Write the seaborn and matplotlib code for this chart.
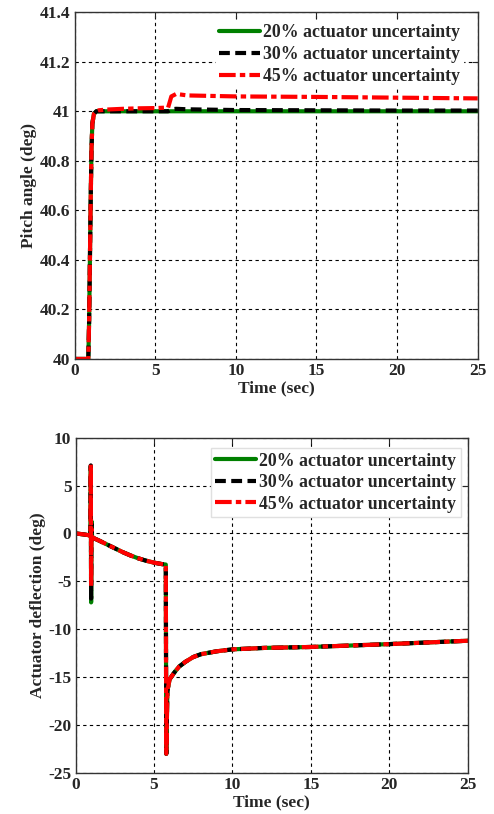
import matplotlib
matplotlib.use("Agg")
import matplotlib.pyplot as plt
import seaborn as sns
from matplotlib.ticker import FormatStrFormatter

sns.set_style("white")
plt.rcParams['font.family'] = ['Liberation Serif', 'DejaVu Serif']
plt.rcParams['font.weight'] = 'bold'

# ---------- data: pitch angle ----------
t_pitch = [0, 0.85, 0.9, 0.95, 1.0, 1.05, 1.1, 1.2, 1.35, 1.5, 2, 3, 4, 5, 5.8, 6.0, 6.3, 7, 10, 15, 20, 25]
pitch_20 = [40, 40, 40.15, 40.4, 40.65, 40.85, 40.95, 40.99, 41.0, 41.0, 41.0, 41.0, 41.0, 41.0, 41.0, 41.0,
            41.0, 41.0, 41.0, 41.0, 41.0, 41.0]
pitch_30 = [40, 40, 40.15, 40.4, 40.65, 40.85, 40.95, 40.99, 41.0, 41.0, 41.0, 41.0, 41.0, 41.0, 41.0, 41.008,
            41.01, 41.008, 41.005, 41.004, 41.003, 41.003]
pitch_45 = [40, 40, 40.15, 40.4, 40.65, 40.85, 40.95, 40.99, 41.0, 41.004, 41.007, 41.01, 41.012, 41.013, 41.015,
            41.06, 41.07, 41.064, 41.06, 41.058, 41.055, 41.052]

# ---------- data: actuator deflection ----------
t_act = [0, 0.5, 0.9, 0.95, 0.97, 0.99, 1.01, 1.05, 1.1, 1.5, 2, 2.5, 3, 3.5, 4, 4.5, 5, 5.5, 5.75,
         5.78, 5.85, 5.9, 6.0, 6.3, 6.6, 7, 7.5, 8, 9, 10, 12, 15, 20, 25]
act_20 = [0, -0.1, -0.2, -0.3, 7.0, -7.2, 1.3, -0.3, -0.45, -0.75, -1.15, -1.55, -1.95, -2.3, -2.6, -2.85, -3.05,
          -3.2, -3.25, -23.0, -16.5, -16.0, -15.2, -14.5, -13.9, -13.4, -12.9, -12.6, -12.3, -12.1, -11.95, -11.85,
          -11.55, -11.2]
act_30 = [0, -0.1, -0.2, -0.3, 7.1, -6.8, 1.0, -0.3, -0.45, -0.75, -1.15, -1.55, -1.95, -2.3, -2.6, -2.85, -3.05,
          -3.2, -3.25, -23.0, -16.5, -16.0, -15.2, -14.5, -13.9, -13.4, -12.9, -12.6, -12.3, -12.1, -11.95, -11.85,
          -11.55, -11.2]
act_45 = [0, -0.1, -0.2, -0.3, 7.2, -5.5, 0.5, -0.3, -0.45, -0.75, -1.15, -1.55, -1.95, -2.3, -2.6, -2.85, -3.05,
          -3.2, -3.25, -23.0, -16.5, -16.0, -15.2, -14.5, -13.9, -13.4, -12.9, -12.6, -12.3, -12.1, -11.95, -11.85,
          -11.55, -11.2]

labels = ["20% actuator uncertainty", "30% actuator uncertainty", "45% actuator uncertainty"]
pitch_ticks = [40, 40.2, 40.4, 40.6, 40.8, 41, 41.2, 41.4]
act_ticks = [-25, -20, -15, -10, -5, 0, 5, 10]
time_ticks = [0, 5, 10, 15, 20, 25]

styles = [
    dict(color="#008000", linestyle="-", lw=3.0),
    dict(color="black", linestyle=(0, (2.6, 1.3)), lw=3.0),
    dict(color="#ff0000", linestyle=(0, (4.0, 1.0, 1.3, 1.0)), lw=3.0),
]

fig = plt.figure(figsize=(4.94, 8.14), dpi=100)
ax1 = fig.add_axes([0.151, 0.559, 0.816, 0.426])
ax2 = fig.add_axes([0.153, 0.0504, 0.794, 0.412])

def style_axes(ax, yticks, ylim, ylabel, fmt):
    ax.set_xlim(0, 25)
    ax.set_ylim(*ylim)
    ax.set_xticks(time_ticks)
    ax.set_yticks(yticks)
    ax.yaxis.set_major_formatter(FormatStrFormatter(fmt))
    ax.grid(True, color="black", linestyle=(0, (3, 3)), lw=0.8)
    ax.tick_params(direction="in", length=4, width=0.8, top=True, right=True,
                   labelsize=12.5, pad=3)
    for lab in ax.get_xticklabels() + ax.get_yticklabels():
        lab.set_fontweight("bold")
    for s in ax.spines.values():
        s.set_color("#333333")
        s.set_linewidth(1.0)
    ax.set_xlabel("Time (sec)", fontsize=12.5, fontweight="bold", labelpad=1)
    ax.set_ylabel(ylabel, fontsize=12.5, fontweight="bold", labelpad=2)

for y, lab, st in zip([pitch_20, pitch_30, pitch_45], labels, styles):
    sns.lineplot(x=t_pitch, y=y, ax=ax1, label=lab, sort=False, estimator=None, **st)
style_axes(ax1, pitch_ticks, (40, 41.4), "Pitch angle (deg)", "%g")
leg1 = ax1.legend(loc="upper right", fontsize=12.8, handlelength=2.3, frameon=True, framealpha=1,
                  edgecolor="white", fancybox=False, borderpad=0.15, labelspacing=0.3, handletextpad=0.2,
                  bbox_to_anchor=(0.985, 1.0))
for tx in leg1.get_texts():
    tx.set_fontweight("bold")

for y, lab, st in zip([act_20, act_30, act_45], labels, styles):
    sns.lineplot(x=t_act, y=y, ax=ax2, label=lab, sort=False, estimator=None, **st)
style_axes(ax2, act_ticks, (-25, 10), "Actuator deflection (deg)", "%g")
leg2 = ax2.legend(loc="upper right", fontsize=12.8, handlelength=2.3, frameon=True, framealpha=1,
                  edgecolor="#e0e0e0", fancybox=False, borderpad=0.25, labelspacing=0.25, handletextpad=0.2,
                  bbox_to_anchor=(1.005, 0.995))
for tx in leg2.get_texts():
    tx.set_fontweight("bold")

fig.savefig("out.png", dpi=100)
